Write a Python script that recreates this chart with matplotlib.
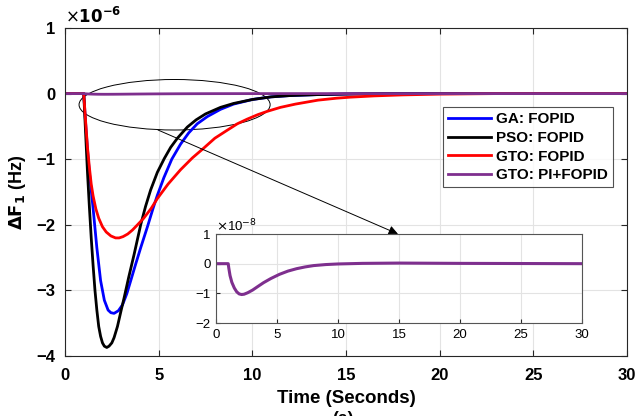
import numpy as np
import matplotlib
matplotlib.use("Agg")
import matplotlib.pyplot as plt
from matplotlib.patches import Ellipse

plt.rcParams['font.family'] = ['Liberation Sans', 'DejaVu Sans']

# ---- data (main values in units of 1e-6 Hz, inset in units of 1e-8 Hz) ----
t_ga = [0, 1.0, 1.1, 1.2, 1.3, 1.5, 1.7, 1.9, 2.1, 2.3, 2.45, 2.62, 2.85, 3.07, 3.3, 3.51, 3.75, 4.04, 4.4,
        4.7, 4.93, 5.28, 5.7, 6.17, 6.6, 7.06, 7.6, 8.3, 9.0, 10, 11, 12, 13.5, 15, 17, 20, 30]
y_ga = [0, 0, -0.45, -0.85, -1.2, -1.75, -2.35, -2.85, -3.15, -3.3, -3.34, -3.35, -3.31, -3.22, -3.05, -2.85,
        -2.62, -2.35, -2.03, -1.75, -1.55, -1.28, -1.0, -0.77, -0.6, -0.46, -0.35, -0.24, -0.16, -0.09,
        -0.05, -0.03, -0.015, -0.006, 0, 0, 0]

t_pso = [0, 1.0, 1.05, 1.1, 1.2, 1.3, 1.4, 1.5, 1.6, 1.7, 1.8, 1.9, 2.0, 2.1, 2.23, 2.35, 2.5, 2.62, 2.8, 3.0,
         3.15, 3.4, 3.69, 4.04, 4.3, 4.57, 4.93, 5.3, 5.64, 6.0, 6.53, 7.0, 7.5, 8.3, 9.0, 10, 11, 12, 13.5,
         15, 17, 20, 30]
y_pso = [0, 0, -0.3, -0.6, -1.2, -1.72, -2.2, -2.62, -3.0, -3.3, -3.55, -3.7, -3.8, -3.85, -3.87, -3.85,
         -3.8, -3.72, -3.55, -3.3, -3.12, -2.8, -2.45, -2.0, -1.72, -1.47, -1.2, -0.99, -0.82, -0.68, -0.51,
         -0.40, -0.31, -0.21, -0.15, -0.09, -0.05, -0.03, -0.015, -0.007, 0, 0, 0]

t_gto = [0, 1.0, 1.1, 1.2, 1.3, 1.4, 1.5, 1.65, 1.8, 2.0, 2.2, 2.45, 2.7, 2.89, 3.1, 3.35, 3.6, 3.87, 4.2,
         4.6, 4.93, 5.5, 6.17, 6.8, 7.41, 8.0, 8.65, 9.2, 9.72, 10.3, 10.8, 11.5, 12.3, 13.5, 14.5, 15.2,
         16.5, 18, 20, 23, 30]
y_gto = [0, 0, -0.42, -0.82, -1.12, -1.38, -1.56, -1.76, -1.9, -2.03, -2.11, -2.17, -2.2, -2.2, -2.18,
         -2.14, -2.08, -2.0, -1.9, -1.75, -1.6, -1.38, -1.16, -0.98, -0.83, -0.68, -0.56, -0.46, -0.39,
         -0.32, -0.27, -0.21, -0.16, -0.1, -0.07, -0.055, -0.035, -0.02, -0.008, 0, 0]

t_pi = [0, 1.0, 1.05, 1.15, 1.3, 1.5, 1.7, 1.9, 2.1, 2.3, 2.6, 3.0, 3.5, 3.9, 4.5, 5.2, 5.9, 6.6, 7.3, 8.0,
        9, 10, 11, 12, 15, 20, 25, 30]
y_pi = [0, 0, -0.15, -0.4, -0.63, -0.82, -0.95, -1.02, -1.04, -1.03, -0.98, -0.89, -0.75, -0.64, -0.5,
        -0.36, -0.25, -0.17, -0.11, -0.065, -0.03, -0.01, 0, 0.01, 0.02, 0.01, 0.005, 0]

labels = ['GA: FOPID', 'PSO: FOPID', 'GTO: FOPID', 'GTO: PI+FOPID']
colors = ['#0000ff', '#000000', '#ff0000', '#7e2f8e']

main_xticks = [0, 5, 10, 15, 20, 25, 30]
main_yticks = [-4, -3, -2, -1, 0, 1]
inset_xticks = [0, 5, 10, 15, 20, 25, 30]
inset_yticks = [-2, -1, 0, 1]

W, H = 638, 416
fig = plt.figure(figsize=(W / 100, H / 100), dpi=100)
spine_c = '#262626'
grid_c = '#e3e3e3'

ax = fig.add_axes([65 / W, 1 - 356 / H, (627 - 65) / W, (356 - 28) / H])
lw = 2.0
ax.plot(t_ga, y_ga, color=colors[0], lw=lw, label=labels[0])
ax.plot(t_pso, y_pso, color=colors[1], lw=lw, label=labels[1])
ax.plot(t_gto, y_gto, color=colors[2], lw=lw, label=labels[2])
ax.plot(t_pi, np.array(y_pi) * 0.01, color=colors[3], lw=lw, label=labels[3])
ax.set_xlim(0, 30)
ax.set_ylim(-4, 1)
ax.set_xticks(main_xticks)
ax.set_yticks(main_yticks)
ax.grid(True, color=grid_c, lw=0.8)
ax.set_axisbelow(True)
ax.tick_params(direction='in', length=4, color=spine_c, labelsize=12, top=True, right=True)
ax.tick_params(axis='x', pad=9)
ax.tick_params(axis='y', pad=7)
for lab in ax.get_xticklabels() + ax.get_yticklabels():
    lab.set_fontweight('bold')
for s in ax.spines.values():
    s.set_color(spine_c)
    s.set_linewidth(0.8)
ax.set_xlabel('Time (Seconds)', fontsize=13.5, fontweight='bold', labelpad=5)
ax.set_ylabel(r'$\mathbf{\Delta F_1}$ (Hz)', fontsize=13, fontweight='bold', labelpad=6)
ax.text(0.0, 1.005, r'$\times\mathbf{10^{-6}}$', transform=ax.transAxes, fontsize=12,
        fontweight='bold', ha='left', va='bottom')

leg = ax.legend(loc='upper right', bbox_to_anchor=(613 / W, 1 - 107 / H), bbox_transform=fig.transFigure,
                prop={'weight': 'bold', 'size': 11}, frameon=True, fancybox=False,
                handlelength=2.8, handletextpad=0.3, borderpad=0.35, labelspacing=0.3, borderaxespad=0)
leg.get_frame().set_edgecolor(spine_c)
leg.get_frame().set_linewidth(0.8)

ell = Ellipse((5.85, -0.17), 10.2, 0.77, fill=False, edgecolor='black', lw=0.7)
ax.add_patch(ell)

# inset
axi = fig.add_axes([216 / W, 1 - 323 / H, (582 - 216) / W, (323 - 234) / H])
axi.plot(t_pi, y_pi, color=colors[3], lw=2.2)
axi.set_xlim(0, 30)
axi.set_ylim(-2, 1)
axi.set_xticks(inset_xticks)
axi.set_yticks(inset_yticks)
axi.grid(True, color=grid_c, lw=0.8)
axi.set_axisbelow(True)
axi.tick_params(direction='in', length=3, color=spine_c, labelsize=9.5, pad=4)
for s in axi.spines.values():
    s.set_color('#555555')
    s.set_linewidth(0.8)
axi.text(0.0, 1.0, r'$\times$10$^{-8}$', transform=axi.transAxes, fontsize=9.5, ha='left', va='bottom')

# arrow from ellipse to inset
ax.annotate('', xy=(398 / W, 1 - 234 / H), xycoords='figure fraction',
            xytext=(158 / W, 1 - 130 / H), textcoords='figure fraction',
            arrowprops=dict(arrowstyle='-|>', color='black', lw=0.7, mutation_scale=14,
                            shrinkA=0, shrinkB=0))

fig.text(343 / W, -10 / H, '(a)', fontsize=12.5, fontweight='bold', ha='center', va='bottom')

fig.savefig('out.png', dpi=100)
